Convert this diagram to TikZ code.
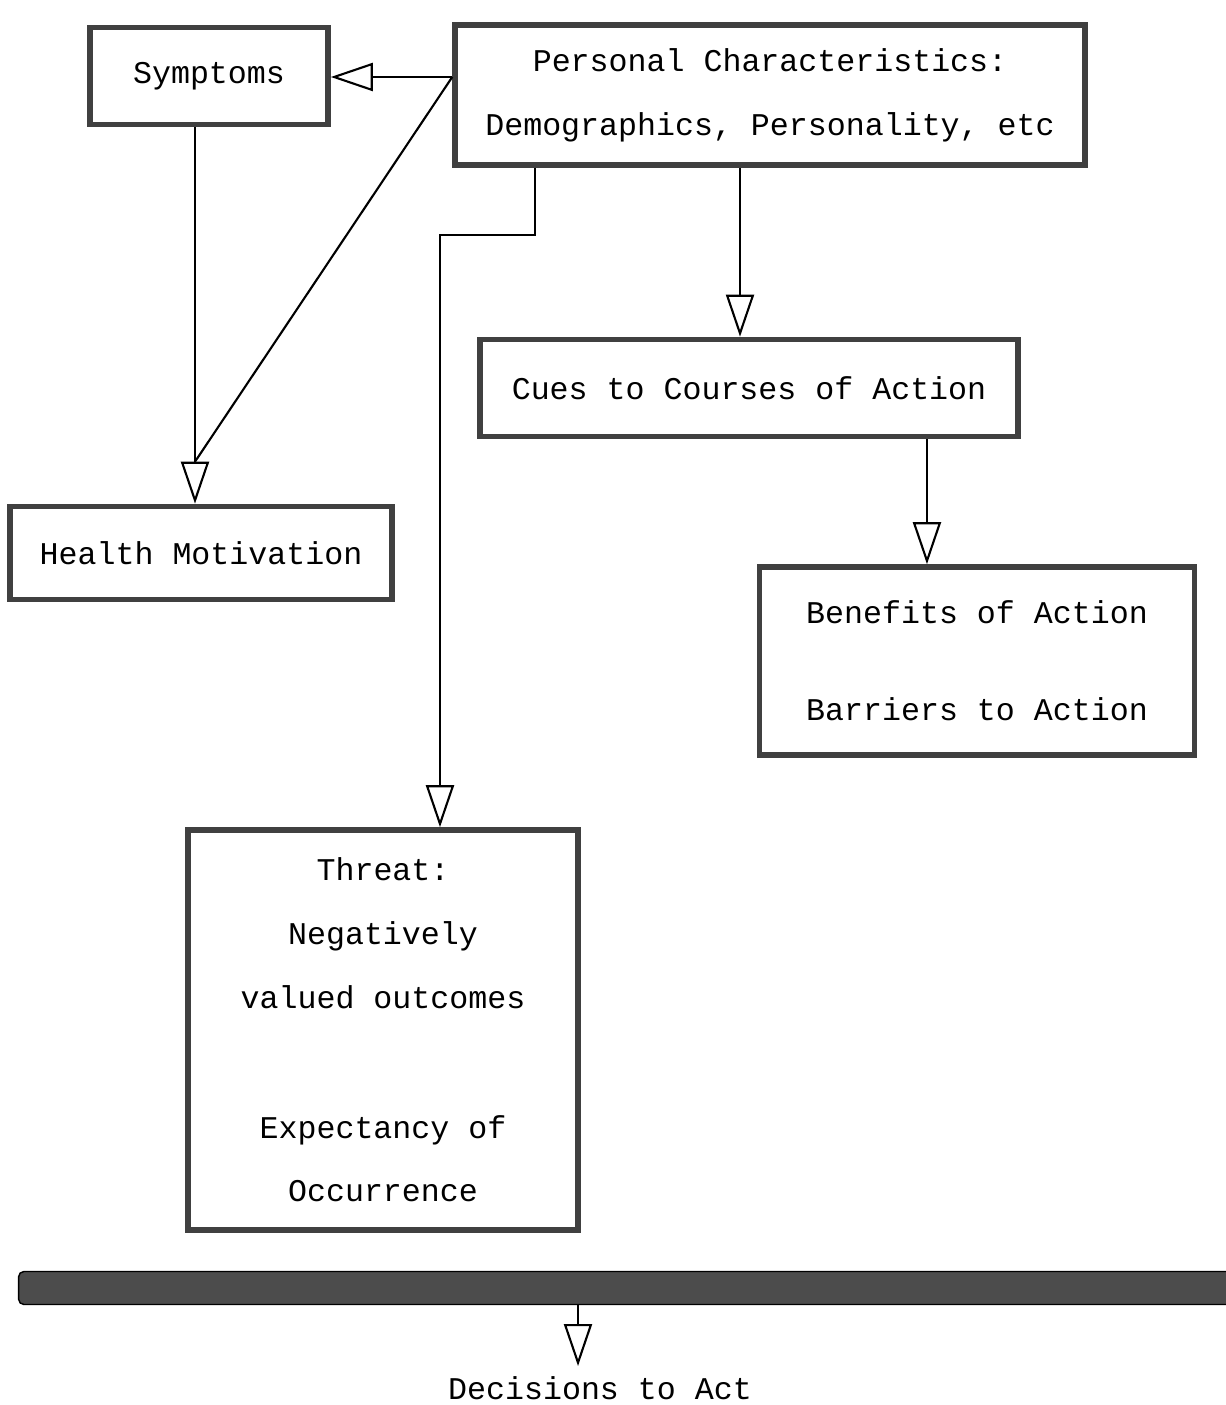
\documentclass[tikz,border=0pt]{standalone}
\usepackage{fontspec}
\setmainfont{Liberation Mono}
\usetikzlibrary{arrows.meta}
\begin{document}
\begin{tikzpicture}[x=0.02cm,y=-0.02cm,
  box/.style={draw=black!75, line width=3.2pt, inner sep=0pt, align=center,
    font=\fontsize{18}{36.3}\selectfont},
  conn/.style={line width=1.2pt, -{Triangle[fill=white, length=0.84cm, width=0.56cm, line width=1.2pt]}},
  plain/.style={line width=1.2pt},
  lbl/.style={inner sep=0pt, font=\fontsize{18}{36.3}\selectfont}]
\useasboundingbox (0,0) rectangle (1225,1405);
\node[box, minimum width=4.76cm, minimum height=1.94cm] (S) at (209,76) {Symptoms};
\node[box, minimum width=12.6cm, minimum height=2.8cm] (P) at (770,95)
  {Personal Characteristics:\\Demographics, Personality, etc};
\node[box, minimum width=10.76cm, minimum height=1.94cm] (C) at (749,388) {Cues to Courses of Action};
\node[box, minimum width=7.64cm, minimum height=1.86cm] (H) at (201,553) {Health Motivation};
\node[box, minimum width=8.7cm, minimum height=3.76cm] (B) at (977,661)
  {Benefits of Action\\[0.66cm]Barriers to Action};
\node[box, minimum width=7.8cm, minimum height=8.0cm] (T) at (383,1030)
  {Threat:\\Negatively\\valued outcomes\\[1.32cm]Expectancy of\\Occurrence};
\node[draw=black, line width=0.8pt, fill=black!70, rounded corners=3pt, inner sep=0pt,
  minimum width=24.3cm, minimum height=0.66cm] (bar) at (626,1288) {};
\node[lbl] (D) at (600,1388) {Decisions to Act};
% connectors
\coordinate (pw) at ([yshift=0.36cm]P.west);
\draw[conn] (pw) -- (pw -| S.east);
\coordinate (hb) at ([xshift=-0.12cm,yshift=0.84cm]H.north);
\draw[plain] (pw) -- (hb);
\draw[conn] ([xshift=-0.28cm]S.south) -- ([xshift=-0.28cm]S.south |- H.north);
\coordinate (pb) at ([xshift=-4.7cm]P.south);
\coordinate (tn) at ([xshift=1.14cm]T.north);
\draw[conn] (pb) -- ++(0,67) -| (tn);
\draw[conn] ([xshift=-0.6cm]P.south) -- ([xshift=-0.6cm]P.south |- C.north);
\draw[conn] ([xshift=3.56cm]C.south) -- ([xshift=3.56cm]C.south |- B.north);
\coordinate (bs) at ([xshift=-0.96cm]bar.south);
\coordinate (dn) at ([yshift=0.2cm]D.north);
\draw[conn] (bs) -- (bs |- dn);
\end{tikzpicture}
\end{document}
